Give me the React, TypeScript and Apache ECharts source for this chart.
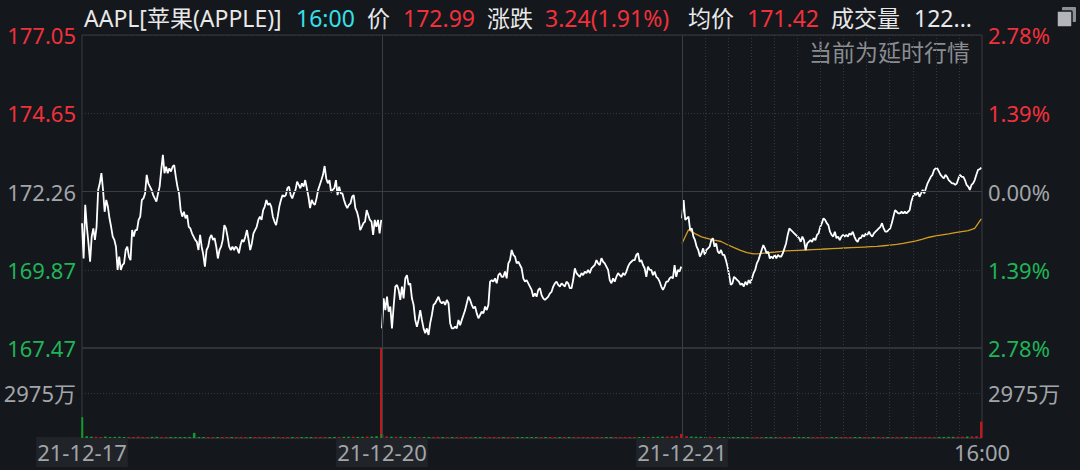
import React, { useEffect, useRef } from "react";
import * as echarts from "echarts";

// ---------- data ----------
const dateLabels = ["21-12-17", "21-12-20", "21-12-21", "16:00"];
const priceTickLabels = ["167.47", "169.87", "172.26", "174.65", "177.05"];
const pctTickLabels = ["2.78%", "1.39%", "0.00%", "1.39%", "2.78%"];
const pctStep = 1.39;
const volTick = 2975; // 万
const volTickLabel = "2975万";
const prevClose = 172.26;

const day1Prices = [
  171.29, 170.21, 171.85, 171.18, 170.67, 170.11, 170.88, 171.13, 170.78, 171.18,
  172.31, 172.51, 172.82, 172.31, 171.64, 172.0, 171.8, 171.44, 171.18, 170.88,
  170.78, 170.57, 169.86, 170.27, 169.86, 170.01, 170.06, 170.47, 170.57, 170.27,
  170.16, 171.08, 170.88, 171.08, 171.08, 171.39, 171.49, 172.0, 172.05, 172.2,
  172.77, 172.51, 172.41, 172.31, 172.15, 172.05, 171.95, 172.2, 172.41, 172.92,
  173.38, 172.82, 173.02, 172.82, 172.97, 172.87, 173.02, 173.07, 172.71, 172.41,
  172.2, 171.69, 171.49, 171.64, 171.44, 171.54, 171.18, 171.13, 170.98, 170.88,
  170.78, 170.72, 170.47, 170.93, 170.57, 170.32, 169.96, 170.47, 170.57, 170.83,
  170.93, 170.78, 170.83, 170.57, 170.21, 170.47, 170.57, 170.78, 171.23, 171.13,
  170.88, 170.57, 170.47, 170.57, 170.47, 170.57, 170.52, 170.37, 170.62, 170.78,
  170.72, 170.88, 171.08, 170.78, 170.47, 170.67, 170.98, 171.08, 171.18, 171.39,
  171.49, 171.39, 171.69, 171.8, 172.0, 171.85, 171.9, 171.8, 171.49, 171.34,
  171.23, 171.49, 171.8, 172.0, 172.15, 172.1, 172.15, 172.36, 172.41, 172.15,
  172.05, 172.2, 172.31, 172.56, 172.46, 172.36, 172.51, 172.41, 172.61, 172.36,
  172.1, 171.75, 172.0, 171.9, 171.85, 172.05, 172.31, 172.46, 172.61, 172.77,
  173.04, 172.66, 172.51, 172.61, 172.25, 172.31, 172.36, 172.61, 172.15, 172.41,
  172.2, 172.2, 172.0, 171.85, 171.75, 171.85, 171.9, 172.1, 172.15, 171.75,
  171.64, 171.44, 171.08, 171.18, 171.29, 171.34, 171.69, 171.54, 171.39, 171.34,
  170.93, 171.39, 171.18, 171.39, 170.98, 171.39,
];

const day2Prices = [
  168.07, 168.99, 168.63, 169.04, 168.58, 168.74, 168.07, 168.74, 169.35, 169.4,
  169.25, 168.94, 169.35, 168.99, 169.6, 169.7, 169.4, 169.45, 168.99, 168.79,
  168.33, 168.12, 168.33, 168.63, 168.33, 168.07, 167.92, 168.07, 167.87,
  168.23, 168.48, 168.79, 168.84, 168.94, 169.04, 168.89, 168.84, 168.89, 168.79,
  168.94, 168.84, 168.23, 168.07, 168.07, 168.12, 168.07, 168.33, 168.17, 168.33,
  168.48, 168.63, 168.84, 169.04, 168.94, 168.79, 168.68, 168.74, 168.53, 168.38,
  168.48, 168.58, 168.53, 168.74, 168.63, 168.79, 169.5, 169.55, 169.5, 169.6,
  169.45, 169.7, 169.76, 169.65, 169.65, 169.81, 169.6, 170.06, 170.16, 170.47,
  170.32, 170.27, 170.06, 170.11, 170.01, 169.91, 169.6, 169.5, 169.55, 169.45,
  169.35, 169.25, 169.04, 169.14, 169.04, 169.25, 169.3, 169.09, 168.99, 168.94,
  168.99, 169.04, 169.14, 169.19, 169.35, 169.45, 169.5, 169.4, 169.35, 169.45,
  169.4, 169.35, 169.5, 169.45, 169.3, 169.3, 169.55, 169.91, 169.76, 169.7,
  169.65, 169.76, 169.7, 169.81, 169.76, 169.86, 169.76, 169.91, 169.96, 170.01,
  170.16, 170.06, 170.01, 170.22, 170.11, 170.06, 169.96, 169.86, 169.55, 169.45,
  169.6, 169.5, 169.65, 169.76, 169.7, 169.65, 169.76, 169.7, 169.81, 169.96,
  170.06, 170.11, 170.16, 170.16, 170.32, 170.37, 170.11, 170.16, 170.01, 169.91,
  169.65, 169.96, 169.86, 169.86, 169.7, 169.81, 169.65, 169.6, 169.5, 169.35,
  169.25, 169.35, 169.5, 169.5, 169.6, 169.65, 169.6, 170.01, 169.65, 169.86,
  169.81, 169.96,
];

const day3Prices = [
  171.44, 172.0, 171.39, 171.44, 171.49, 171.08, 171.13, 170.88, 170.77, 170.57,
  170.47, 170.27, 170.37, 170.52, 170.32, 170.47, 170.52, 170.57, 170.77, 170.83,
  170.57, 170.67, 170.42, 170.37, 170.47, 170.32, 170.32, 170.16, 169.96, 169.7,
  169.4, 169.45, 169.65, 169.6, 169.55, 169.5, 169.4, 169.45, 169.35, 169.5,
  169.4, 169.55, 169.45, 169.6, 169.76, 169.86, 170.06, 170.16, 170.32, 170.47,
  170.62, 170.52, 170.37, 170.42, 170.21, 170.27, 170.21, 170.32, 170.21, 170.32,
  170.27, 170.27, 170.37, 170.52, 170.67, 170.93, 171.13, 171.08, 171.03, 170.98,
  170.93, 170.88, 170.83, 170.72, 170.88, 170.77, 170.47, 170.67, 170.72, 170.77,
  170.72, 170.83, 170.77, 170.93, 170.98, 171.18, 171.29, 171.44, 171.39, 171.29,
  171.23, 171.03, 170.93, 170.88, 171.03, 170.83, 170.88, 170.77, 170.88, 170.93,
  170.88, 170.93, 170.88, 170.98, 170.93, 171.03, 170.88, 170.77, 170.72, 170.83,
  170.83, 170.93, 170.88, 170.98, 170.93, 171.03, 170.93, 170.88, 170.98, 171.03,
  171.08, 171.13, 171.18, 171.29, 171.13, 171.03, 171.03, 171.08, 171.13, 171.29,
  171.49, 171.69, 171.64, 171.59, 171.59, 171.64, 171.59, 171.64, 171.59, 171.64,
  171.69, 171.95, 172.1, 172.2, 172.15, 172.25, 172.1, 172.2, 172.31, 172.2,
  172.36, 172.51, 172.61, 172.71, 172.77, 172.92, 172.97, 172.97, 172.87, 172.77,
  172.71, 172.66, 172.77, 172.71, 172.61, 172.56, 172.51, 172.51, 172.46, 172.51,
  172.66, 172.77, 172.71, 172.71, 172.61, 172.46, 172.41, 172.31, 172.46, 172.51,
  172.61, 172.77, 172.92, 172.94, 172.99,
];

const day3AvgPrices = [
  170.67, 171.09, 170.97, 170.87, 170.82, 170.77, 170.73, 170.63, 170.54, 170.46,
  170.39, 170.35, 170.36, 170.38, 170.4, 170.42, 170.44, 170.45, 170.46, 170.47,
  170.48, 170.49, 170.5, 170.51, 170.52, 170.53, 170.54, 170.55, 170.56, 170.57,
  170.58, 170.6, 170.62, 170.64, 170.67, 170.71, 170.75, 170.8, 170.86, 170.9,
  170.93, 170.96, 171.0, 171.03, 171.06, 171.13, 171.42,
];

// volume in 万 shares
const day1Volumes = [
  1380, 120, 90, 80, 70, 95, 60, 75, 85, 55, 70, 65, 90, 60, 50, 75, 80, 60, 55, 70,
  65, 60, 50, 70, 340, 55, 60, 45, 65, 50, 55, 70, 60, 45, 50, 55, 60, 65, 50, 45,
  55, 60, 70, 50, 45, 55, 60, 50, 65, 55, 60, 70, 65, 60, 75, 70, 80, 85, 90, 75,
  80, 95, 100, 120, 9000,
];
const day2Volumes = [
  250, 110, 90, 80, 85, 70, 75, 60, 65, 70, 55, 60, 75, 50, 55, 60, 65, 50, 45, 55,
  60, 50, 45, 50, 55, 60, 45, 50, 55, 45, 50, 40, 55, 60, 50, 45, 50, 55, 45, 50,
  60, 55, 50, 45, 55, 50, 60, 55, 50, 60, 65, 55, 60, 70, 65, 60, 75, 70, 80, 85,
  90, 95, 110, 120, 260,
];
const day3Volumes = [
  280, 120, 95, 85, 80, 70, 75, 65, 60, 70, 55, 65, 60, 50, 55, 60, 50, 55, 45, 50,
  55, 60, 50, 45, 55, 50, 45, 50, 55, 50, 45, 40, 50, 55, 45, 50, 45, 55, 50, 45,
  50, 55, 60, 55, 50, 60, 55, 65, 60, 55, 60, 65, 70, 60, 65, 75, 70, 80, 75, 85,
  90, 100, 110, 130, 1080,
];

// header values
const headerItems = [
  { text: "AAPL[苹果(APPLE)]", x: 84, kind: "w" },
  { text: "16:00", x: 296, kind: "c" },
  { text: "价", x: 367, kind: "w" },
  { text: "172.99", x: 403, kind: "r" },
  { text: "涨跌", x: 487, kind: "w" },
  { text: "3.24(1.91%)", x: 545, kind: "r" },
  { text: "均价", x: 688, kind: "w" },
  { text: "171.42", x: 747, kind: "r" },
  { text: "成交量", x: 831, kind: "w" },
  { text: "122...", x: 914, kind: "w" },
];
const delayNote = "当前为延时行情";

// ---------- styling ----------
const MIN_PER_DAY = 390;
const DAYS = 3;
const TOTAL = MIN_PER_DAY * DAYS;
const HALF_HOUR = 30;
const FONT = "'Noto Sans', 'Noto Sans CJK SC', sans-serif";
const BG = "#14171c";
const RED = "#f0313b";
const GREEN = "#1fb457";
const GRAY = "#a2a5a9";
const WHITE = "#e8e8e8";
const CYAN = "#35e0e8";
const GRID = "#3a3d42";
const DOT = "#34373c";
const VOL_RED = "#b81a1e";
const VOL_GREEN = "#139a2c";
const AVG = "#d39c22";
const FS = 22;
const HFS = 23;

const dayPrices = [day1Prices, day2Prices, day3Prices];
const dayVolumes = [day1Volumes, day2Volumes, day3Volumes];

function minuteOf(d: number, i: number, n: number) {
  return d * MIN_PER_DAY + (i * (MIN_PER_DAY - 1)) / (n - 1);
}

function priceAt(d: number, minute: number) {
  const arr = dayPrices[d];
  const rel = (minute - d * MIN_PER_DAY) / (MIN_PER_DAY - 1);
  const idx = Math.max(0, Math.min(arr.length - 1, Math.round(rel * (arr.length - 1))));
  return arr[idx];
}

function buildVolumeData() {
  const out: any[] = [];
  dayVolumes.forEach((vols, d) => {
    vols.forEach((v, i) => {
      const m = minuteOf(d, i, vols.length);
      const p = priceAt(d, m);
      let prev: number;
      if (i === 0) {
        prev = d === 0 ? prevClose : dayPrices[d - 1][dayPrices[d - 1].length - 1];
      } else {
        prev = priceAt(d, minuteOf(d, i - 1, vols.length));
      }
      out.push({
        value: [m, v],
        itemStyle: { color: p >= prev ? VOL_RED : VOL_GREEN },
      });
    });
  });
  return out;
}

function verticalLines() {
  const lines: any[] = [];
  for (let d = 1; d < DAYS; d++) {
    lines.push({ xAxis: d * MIN_PER_DAY, lineStyle: { color: GRID, type: "solid", width: 1 } });
  }
  const lastStart = (DAYS - 1) * MIN_PER_DAY;
  for (let m = lastStart + HALF_HOUR; m < TOTAL; m += HALF_HOUR) {
    lines.push({ xAxis: m, lineStyle: { color: DOT, type: [1, 2], width: 1 } });
  }
  return lines;
}

const labelRich = {
  r: { color: RED, fontSize: FS, fontFamily: FONT },
  g: { color: GREEN, fontSize: FS, fontFamily: FONT },
  n: { color: GRAY, fontSize: FS, fontFamily: FONT },
};

function tickIndex(v: number) {
  return Math.round(v / pctStep) + 2;
}

export default function App() {
  const ref = useRef<HTMLDivElement>(null);

  useEffect(() => {
    if (!ref.current) return;
    const chart = echarts.init(ref.current, null, { renderer: "svg" });
    const pMin = parseFloat(priceTickLabels[0]);
    const pMax = parseFloat(priceTickLabels[priceTickLabels.length - 1]);
    const pctMax = pctStep * 2;

    const priceSeries = dayPrices.map((arr, d) => ({
      type: "line",
      xAxisIndex: 0,
      yAxisIndex: 2,
      data: arr.map((p, i) => [minuteOf(d, i, arr.length), p]),
      showSymbol: false,
      symbol: "none",
      silent: true,
      z: 3,
      lineStyle: { color: "#ffffff", width: 1.8 },
    }));

    const avgSeries = {
      type: "line",
      xAxisIndex: 0,
      yAxisIndex: 2,
      data: day3AvgPrices.map((p, i) => [minuteOf(2, i, day3AvgPrices.length), p]),
      showSymbol: false,
      symbol: "none",
      silent: true,
      z: 2,
      lineStyle: { color: AVG, width: 1.3 },
    };

    const priceGridLines = {
      type: "line",
      xAxisIndex: 0,
      yAxisIndex: 2,
      data: [],
      silent: true,
      z: 1,
      markLine: {
        symbol: "none",
        silent: true,
        animation: false,
        label: { show: false },
        emphasis: { disabled: true },
        data: [
          { yAxis: prevClose, lineStyle: { color: GRID, type: "solid", width: 1 } },
          ...verticalLines(),
        ],
      },
    };

    const volSeries = {
      type: "bar",
      xAxisIndex: 1,
      yAxisIndex: 3,
      data: buildVolumeData(),
      barWidth: 2.5,
      barMinHeight: 1,
      silent: true,
      z: 2,
    };

    const volGridLines = {
      type: "line",
      xAxisIndex: 1,
      yAxisIndex: 3,
      data: [],
      silent: true,
      z: 1,
      markLine: {
        symbol: "none",
        silent: true,
        animation: false,
        label: { show: false },
        emphasis: { disabled: true },
        data: verticalLines(),
      },
    };

    const header = headerItems.map((h) => ({
      type: "text",
      x: h.x,
      y: 18,
      silent: true,
      style: {
        text: h.text,
        fill: h.kind === "r" ? RED : h.kind === "c" ? CYAN : WHITE,
        fontSize: HFS,
        fontFamily: FONT,
        verticalAlign: "middle",
        align: "left",
      },
    }));

    const option: any = {
      animation: false,
      backgroundColor: BG,
      textStyle: { fontFamily: FONT },
      grid: [
        { left: 82, top: 35, width: 900, height: 313, show: true, borderColor: GRID, borderWidth: 1 },
        { left: 82, top: 348, width: 900, height: 90, show: true, borderColor: GRID, borderWidth: 1 },
      ],
      xAxis: [
        { type: "value", gridIndex: 0, min: 0, max: TOTAL, show: false },
        {
          type: "value",
          gridIndex: 1,
          min: 0,
          max: TOTAL,
          interval: MIN_PER_DAY,
          axisLine: { show: false },
          axisTick: { show: false },
          splitLine: { show: false },
          axisLabel: {
            margin: 2,
            showMinLabel: true,
            showMaxLabel: true,
            hideOverlap: false,
            formatter: (v: number) => {
              const i = Math.round(v / MIN_PER_DAY);
              const t = dateLabels[i] ?? "";
              return i < DAYS ? `{d|${t}}` : `{t|${t}}`;
            },
            rich: {
              d: {
                color: GRAY,
                fontSize: FS,
                fontFamily: FONT,
                backgroundColor: "#202328",
                padding: [4, 1, 4, 1],
                lineHeight: 24,
              },
              t: { color: GRAY, fontSize: FS, fontFamily: FONT, lineHeight: 24, padding: [4, 0, 4, 0] },
            },
          },
        },
      ],
      yAxis: [
        {
          type: "value",
          gridIndex: 0,
          position: "left",
          min: -pctMax,
          max: pctMax,
          interval: pctStep,
          axisLine: { show: false },
          axisTick: { show: false },
          splitLine: { show: true, lineStyle: { color: DOT, type: [1, 2], width: 1 } },
          axisLabel: {
            margin: 6,
            showMinLabel: true,
            showMaxLabel: true,
            formatter: (v: number) => {
              const i = tickIndex(v);
              const s = i > 2 ? "r" : i < 2 ? "g" : "n";
              return `{${s}|${priceTickLabels[i] ?? ""}}`;
            },
            rich: labelRich,
          },
        },
        {
          type: "value",
          gridIndex: 0,
          position: "right",
          min: -pctMax,
          max: pctMax,
          interval: pctStep,
          axisLine: { show: false },
          axisTick: { show: false },
          splitLine: { show: false },
          axisLabel: {
            margin: 6,
            showMinLabel: true,
            showMaxLabel: true,
            formatter: (v: number) => {
              const i = tickIndex(v);
              const s = i > 2 ? "r" : i < 2 ? "g" : "n";
              return `{${s}|${pctTickLabels[i] ?? ""}}`;
            },
            rich: labelRich,
          },
        },
        { type: "value", gridIndex: 0, min: pMin, max: pMax, show: false },
        {
          type: "value",
          gridIndex: 1,
          position: "left",
          min: 0,
          max: volTick * 2,
          interval: volTick,
          axisLine: { show: false },
          axisTick: { show: false },
          splitLine: { show: true, lineStyle: { color: DOT, type: [1, 2], width: 1 } },
          axisLabel: {
            margin: 6,
            color: GRAY,
            fontSize: FS,
            fontFamily: FONT,
            formatter: (v: number) => (Math.abs(v - volTick) < 1 ? volTickLabel : ""),
          },
        },
        {
          type: "value",
          gridIndex: 1,
          position: "right",
          min: 0,
          max: volTick * 2,
          interval: volTick,
          axisLine: { show: false },
          axisTick: { show: false },
          splitLine: { show: false },
          axisLabel: {
            margin: 6,
            color: GRAY,
            fontSize: FS,
            fontFamily: FONT,
            formatter: (v: number) => (Math.abs(v - volTick) < 1 ? volTickLabel : ""),
          },
        },
      ],
      graphic: [
        ...header,
        {
          type: "text",
          x: 970,
          y: 52,
          silent: true,
          style: {
            text: delayNote,
            fill: "#8a8c90",
            fontSize: HFS,
            fontFamily: FONT,
            align: "right",
            verticalAlign: "middle",
          },
        },
        {
          type: "rect",
          silent: true,
          shape: { x: 1062, y: 7, width: 14, height: 15, r: 1 },
          style: { fill: "#8e9094" },
        },
        {
          type: "rect",
          silent: true,
          shape: { x: 1057, y: 11, width: 15, height: 16, r: 1 },
          style: { fill: "#b3b5b8", stroke: BG, lineWidth: 1.5 },
        },
      ],
      series: [priceGridLines, volGridLines, avgSeries, ...priceSeries, volSeries],
    };

    chart.setOption(option);
    return () => chart.dispose();
  }, []);

  return (
    <div
      ref={ref}
      style={{ position: "fixed", left: 0, top: 0, width: 1080, height: 470 }}
    />
  );
}
